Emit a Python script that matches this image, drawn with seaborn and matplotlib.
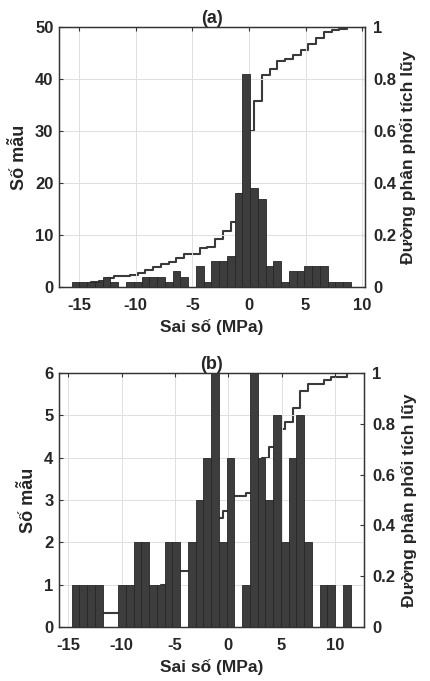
import numpy as np
import pandas as pd
import matplotlib
matplotlib.use("Agg")
import matplotlib.pyplot as plt
import seaborn as sns

# histogram (a): 36 bins between these limits
a_lo, a_hi = -15.65, 9.0
counts_a = [1, 1, 1, 1, 2, 1, 0, 1, 1, 2, 2, 2, 1, 3, 2, 0, 4, 1,
            5, 5, 6, 18, 41, 19, 17, 4, 5, 1, 3, 3, 4, 4, 4, 1, 1, 1]

# histogram (b)
b_lo, b_hi = -14.68, 11.47
counts_b = [1, 1, 1, 1, 0, 0, 1, 1, 2, 2, 1, 1, 2, 2, 0, 2, 3, 4,
            6, 2, 4, 0, 1, 6, 4, 3, 5, 2, 4, 5, 2, 0, 1, 1, 0, 1]

xticks = [-15, -10, -5, 0, 5, 10]
cdf_ticks = [0, 0.2, 0.4, 0.6, 0.8, 1]
cdf_labels = ["0", "0.2", "0.4", "0.6", "0.8", "1"]

sns.set_style("white")
plt.rcParams["font.family"] = ["Liberation Sans", "DejaVu Sans"]
plt.rcParams["font.weight"] = "bold"

bar_col = "#3d3d3d"
line_col = "#3a3a3a"

fig = plt.figure(figsize=(4.3, 6.81), dpi=100)


def panel(rect, lo, hi, counts, xlim, ylim, yticks, title, ylab_x, rlab_x):
    edges = np.linspace(lo, hi, len(counts) + 1)
    df = pd.DataFrame({"err": (edges[:-1] + edges[1:]) / 2,
                       "n": np.array(counts, dtype=float)})

    ax = fig.add_axes(rect)
    ax2 = ax.twinx()
    # bars on top of the cdf line
    ax.set_zorder(ax2.get_zorder() + 1)
    ax.patch.set_visible(False)

    # bins as a plain list (an array trips seaborn's bins == "auto" check)
    sns.histplot(data=df, x="err", weights="n", bins=edges.tolist(), ax=ax,
                 color=bar_col, alpha=1, edgecolor="#262626", linewidth=0.6)
    sns.ecdfplot(data=df, x="err", weights="n", ax=ax2, color=line_col, linewidth=1.5)

    ax.set_xlim(*xlim)
    ax.set_ylim(*ylim)
    ax.set_xticks(xticks)
    ax.set_yticks(yticks)
    ax.set_xticklabels([str(t) for t in xticks])
    ax.grid(True, color="#e0e0e0", linewidth=0.7)
    ax.set_axisbelow(True)
    ax.tick_params(axis="both", direction="in", length=3, labelsize=12,
                   color="#333333", top=True)
    ax.tick_params(axis="x", pad=8)
    ax.tick_params(axis="y", pad=4)

    ax2.set_ylim(0, 1)
    ax2.set_yticks(cdf_ticks)
    ax2.set_yticklabels(cdf_labels)
    ax2.tick_params(axis="y", direction="in", length=3, labelsize=12,
                    color="#333333", pad=6)

    for a in (ax, ax2):
        for s in a.spines.values():
            s.set_color("#333333")
            s.set_linewidth(0.9)

    ax.set_xlabel("Sai số (MPa)", fontsize=12.5, fontweight="bold")
    ax.xaxis.set_label_coords(0.5, -0.125)
    ax.xaxis.label.set_va("top")
    ax.set_ylabel("Số mẫu", fontsize=13, fontweight="bold")
    ax.yaxis.set_label_coords(ylab_x, 0.5)
    ax2.set_ylabel("Đường phân phối tích lũy", fontsize=12.5, fontweight="bold",
                   rotation=90)
    ax2.yaxis.set_label_coords(rlab_x, 0.5)
    ax2.yaxis.label.set_va("top")
    ax.set_title(title, fontsize=13, fontweight="bold", pad=1)
    return ax, ax2


panel([59 / 430, 1 - 287 / 681, 306 / 430, 260 / 681], a_lo, a_hi, counts_a,
      (-16.77, 10.24), (0, 50), [0, 10, 20, 30, 40, 50], "(a)", -0.102, 1.116)
panel([59 / 430, 1 - 627 / 681, 305 / 430, 254 / 681], b_lo, b_hi, counts_b,
      (-15.87, 12.72), (0, 6), [0, 1, 2, 3, 4, 5, 6], "(b)", -0.072, 1.121)

fig.savefig("out.png", dpi=100, facecolor="white")
